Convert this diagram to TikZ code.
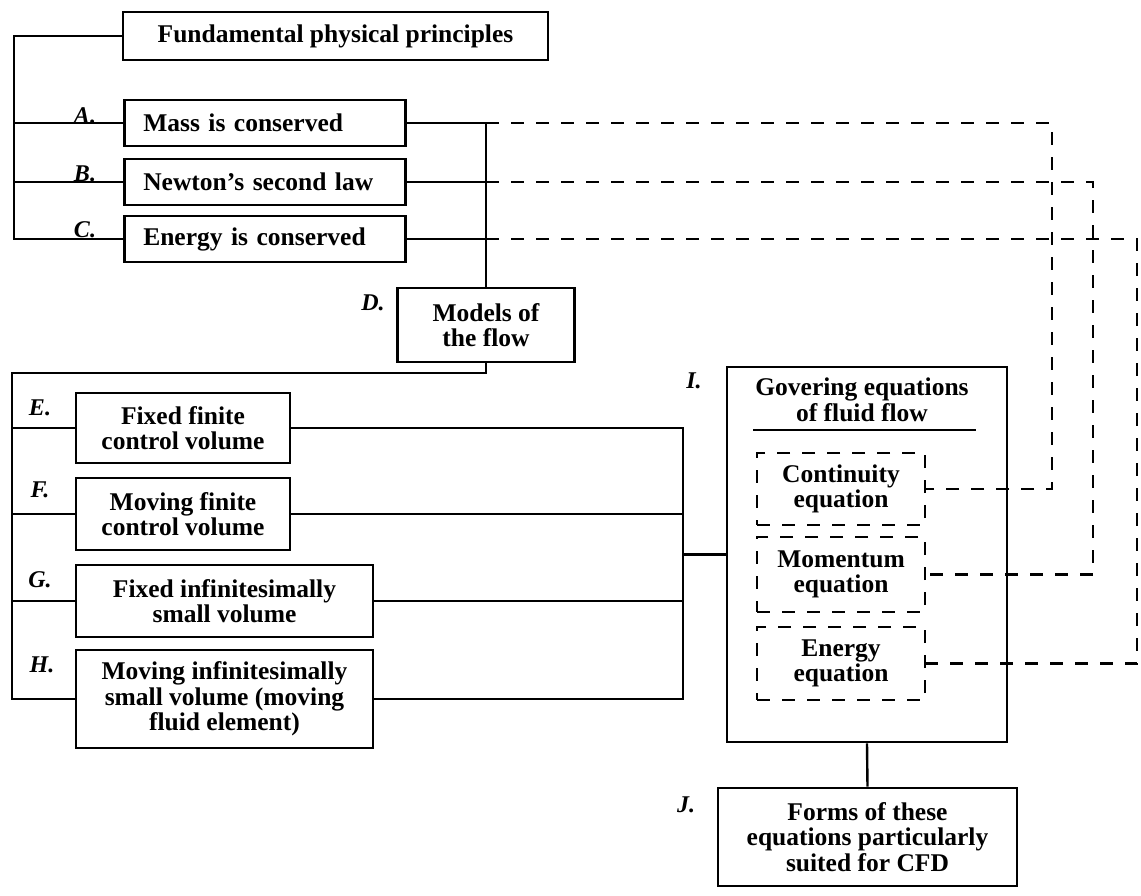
\documentclass[tikz,border=0pt]{standalone}
\usepackage{fontspec}
\setmainfont{Liberation Serif}
\begin{document}
\begin{tikzpicture}[x=1pt,y=-1pt,
  every node/.style={font=\bfseries\fontsize{25.5}{25.5}\selectfont},
  box/.style={draw, line width=2.6pt, inner sep=0pt, align=center},
  lbox/.style={box, anchor=west, align=left, inner xsep=19pt, text width=243pt, minimum height=46pt},
  dbox/.style={draw, line width=2.6pt, dash pattern=on 13pt off 12pt, inner sep=0pt, align=center, minimum width=168pt},
  lbl/.style={font=\bfseries\itshape\fontsize{24}{24}\selectfont, inner sep=0pt},
  conn/.style={line width=2.4pt},
  dconn/.style={line width=2.6pt, dash pattern=on 13pt off 12pt}]
\useasboundingbox (0,0) rectangle (1141,895);

% top group
\node[box, minimum width=425pt, minimum height=48pt] (fund) at (335.5,36) {Fundamental physical principles};
\node[lbox] (A) at (123,123) {Mass is conserved};
\node[lbox] (B) at (123,182) {Newton's second law};
\node[lbox] (C) at (123,239) {Energy is conserved};
\node[lbl] (la) at (85,116) {A.};
\node[lbl] (lb) at (85,174) {B.};
\node[lbl] (lc) at (85,230) {C.};

\coordinate (L0) at (14,36);
\coordinate (La) at (14,123);
\coordinate (Lb) at (14,182);
\coordinate (Lc) at (14,239);
\draw[conn] (fund.west) -- (L0) -- (Lc) -- (C.west);
\draw[conn] (La) -- (A.west);
\draw[conn] (Lb) -- (B.west);

% models of the flow
\node[box, minimum width=177pt, minimum height=74pt] (D) at (486,325) {Models of\\the flow};
\node[lbl] (ld) at (373,303) {D.};
\coordinate (Ra) at (486,123);
\coordinate (Rb) at (486,182);
\coordinate (Rc) at (486,239);
\draw[conn] (A.east) -- (Ra) -- (D.north);
\draw[conn] (B.east) -- (Rb);
\draw[conn] (C.east) -- (Rc);

% model boxes
\node[box, minimum width=214pt, minimum height=70pt] (E) at (183,428) {Fixed finite\\control volume};
\node[box, minimum width=214pt, minimum height=72pt] (F) at (183,514) {Moving finite\\control volume};
\node[box, minimum width=297pt, minimum height=72pt] (G) at (224.5,601) {Fixed infinitesimally\\small volume};
\node[box, minimum width=297pt, minimum height=98pt] (H) at (224.5,699) {Moving infinitesimally\\small volume (moving\\fluid element)};
\node[lbl] (le) at (40,408) {E.};
\node[lbl] (lf) at (40,490) {F.};
\node[lbl] (lg) at (40,580) {G.};
\node[lbl] (lh) at (42,665) {H.};

\coordinate (Dd) at (486,373);
\coordinate (Lt) at (12,373);
\coordinate (Le) at (12,428);
\coordinate (Lf) at (12,514);
\coordinate (Lg) at (12,601);
\coordinate (Lh) at (12,699);
\draw[conn] (D.south) -- (Dd) -- (Lt) -- (Lh) -- (H.west);
\draw[conn] (Le) -- (E.west);
\draw[conn] (Lf) -- (F.west);
\draw[conn] (Lg) -- (G.west);

% governing equations
\node[box, minimum width=280pt, minimum height=375pt] (I) at (867,554.5) {};
\node[lbl] (li) at (694,381) {I.};
\node[inner sep=0pt, align=center] (It) at (862,400) {Govering equations\\of fluid flow};
\draw[conn] (753,430) -- (976,430);
\node[dbox, minimum height=72pt] (cont) at (841,489) {Continuity\\equation};
\node[dbox, minimum height=75pt] (mom) at (841,574.5) {Momentum\\equation};
\node[dbox, minimum height=73pt] (en) at (841,663.5) {Energy\\equation};

\coordinate (Re) at (683,428);
\coordinate (Rf) at (683,514);
\coordinate (Rg) at (683,601);
\coordinate (Rh) at (683,699);
\coordinate (Ri) at (683,554.5);
\draw[conn] (E.east) -- (Re) -- (Rh) -- (H.east);
\draw[conn] (F.east) -- (Rf);
\draw[conn] (G.east) -- (Rg);
\draw[conn] (Ri) -- (I.west);

% J
\node[box, minimum width=299pt, minimum height=98pt] (J) at (867.5,837) {Forms of these\\equations particularly\\suited for CFD};
\node[lbl] (lj) at (686,805) {J.};
\draw[conn] (I.south) -- (J.north);

% dashed connectors
\coordinate (Xa) at (1052,123);
\coordinate (Xb) at (1093,182);
\coordinate (Xc) at (1137,239);
\draw[dconn] (Ra) -- (Xa) |- (cont.east);
\draw[dconn] (Rb) -- (Xb) |- (mom.east);
\draw[dconn] (Rc) -- (Xc) |- (en.east);
\end{tikzpicture}
\end{document}
